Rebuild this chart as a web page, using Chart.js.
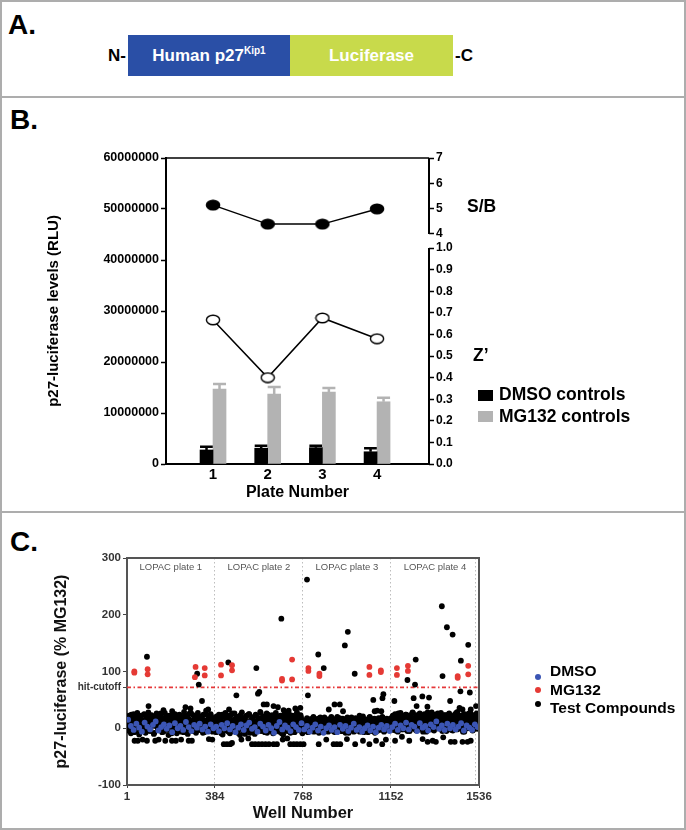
<!DOCTYPE html>
<html>
<head>
<meta charset="utf-8">
<title>p27-luciferase screen</title>
<script src="https://cdn.jsdelivr.net/npm/chart.js@4.4.1/dist/chart.umd.min.js"></script>
<style>
  body { margin: 0; background: #fff; font-family: "Liberation Sans", Arial, sans-serif; }
  #page { position: relative; width: 686px; height: 830px; overflow: hidden; }
  .frame { position: absolute; left: 0; width: 686px; border: 2px solid #adadad; box-sizing: border-box; }
  .tag { position: absolute; font-weight: bold; font-size: 28px; line-height: 28px; }
  .abs { position: absolute; font-weight: bold; white-space: nowrap; }
  .sw { position: absolute; }
  canvas { position: absolute; left: 0; }
</style>
</head>
<body>
<div id="page">
  <div class="frame" style="top:0;height:98px"></div>
  <div class="frame" style="top:96px;height:417px"></div>
  <div class="frame" style="top:511px;height:319px"></div>

  <div class="tag" style="left:8px;top:11px">A.</div>
  <div class="tag" style="left:10px;top:106px">B.</div>
  <div class="tag" style="left:10px;top:528px">C.</div>

  <!-- construct diagram -->
  <div class="abs" style="left:86px;width:40px;text-align:right;top:35px;line-height:41px;font-size:17px">N-</div>
  <div class="abs" style="left:128px;top:35px;width:162px;height:41px;line-height:41px;background:#2a4fa6;color:#fff;text-align:center;font-size:17px">Human p27<span style="font-size:10px;position:relative;top:-7px">Kip1</span></div>
  <div class="abs" style="left:290px;top:35px;width:163px;height:41px;line-height:41px;background:#c8da4b;color:#fff;text-align:center;font-size:17px">Luciferase</div>
  <div class="abs" style="left:455px;top:35px;line-height:41px;font-size:17px">-C</div>

  <canvas id="chartB" width="686" height="410" style="top:97px"></canvas>
  <canvas id="chartC" width="686" height="316" style="top:512px"></canvas>

  <!-- legend B -->
  <div class="sw" style="left:478px;top:390px;width:15px;height:11px;background:#000"></div>
  <div class="abs" style="left:499px;top:384px;font-size:17.5px;line-height:20px">DMSO controls</div>
  <div class="sw" style="left:478px;top:411px;width:15px;height:11px;background:#b3b3b3"></div>
  <div class="abs" style="left:499px;top:406px;font-size:17.5px;line-height:20px">MG132 controls</div>

  <!-- legend C -->
  <div class="sw" style="left:535px;top:674px;width:6px;height:6px;border-radius:3px;background:#3b55b4"></div>
  <div class="abs" style="left:550px;top:661px;font-size:15.5px;line-height:20px">DMSO</div>
  <div class="sw" style="left:535px;top:687px;width:6px;height:6px;border-radius:3px;background:#e53a35"></div>
  <div class="abs" style="left:550px;top:680px;font-size:15.5px;line-height:20px">MG132</div>
  <div class="sw" style="left:535px;top:701px;width:6px;height:6px;border-radius:3px;background:#000"></div>
  <div class="abs" style="left:550px;top:698px;font-size:15.5px;line-height:20px">Test Compounds</div>
</div>

<script>
// ---- panel B: controls per plate ----
const plates = [1, 2, 3, 4];
const dmsoMean = [2750000, 3100000, 3200000, 2400000];
const dmsoSd = [650000, 500000, 400000, 700000];
const mg132Mean = [14700000, 13700000, 14100000, 12200000];
const mg132Sd = [1000000, 1400000, 800000, 800000];
const sbRatio = [5.14, 4.39, 4.39, 4.99];
const zPrime = [0.667, 0.40, 0.676, 0.58];
const sbTicks = [4, 5, 6, 7];
const zTicks = [0, 0.1, 0.2, 0.3, 0.4, 0.5, 0.6, 0.7, 0.8, 0.9, 1.0];

// ---- panel C: LOPAC screen ----
const wellTicks = [1, 384, 768, 1152, 1536];
const plateNames = ['LOPAC plate 1', 'LOPAC plate 2', 'LOPAC plate 3', 'LOPAC plate 4'];
const plateStart = [0, 384, 768, 1152];
const plateMid = [192, 576, 960, 1344];
const plateDividers = [384, 768, 1152];
const hitCutoff = 72;

const mg132Wells = [[33,100],[33,98],[91,104],[91,95],[297,90],[300,108],[340,106],[340,93],
  [411,112],[411,93],[459,111],[459,102],[677,87],[677,84],[721,121],[721,86],
  [792,106],[792,101],[840,96],[840,92],[1058,108],[1058,94],[1108,102],[1108,99],
  [1178,106],[1178,94],[1226,110],[1226,101],[1443,92],[1443,89],[1489,110],[1489,95]];

// DMSO wells, one every 12 wells in each plate
const dmsoPlate1 = [15,4,-3,8,1,-6,10,3,-2,6,12,-4,2,7,-1,5,-7,9,0,4,-3,11,2,-5,6,1,8,-2,3,-6,7,0];
const dmsoPlate2 = [3,-5,6,0,9,-2,4,-7,1,7,-3,5,10,-1,2,-6,8,3,-4,6,0,-8,4,11,-2,5,1,-5,7,2,-3,9];
const dmsoPlate3 = [-2,4,-6,1,7,-4,3,-8,0,5,-3,2,-7,6,-1,4,-5,1,8,-3,2,-6,0,5,-4,3,-7,1,6,-2,4,-5];
const dmsoPlate4 = [2,8,-3,5,0,10,-2,6,3,-5,9,1,4,-4,7,2,12,-1,5,-3,8,0,6,-2,3,9,-4,5,1,-3,7,2];

// test compound band: odd rows (well 2, 6, 10 ...) and even rows (well 4, 8, 12 ...) of each plate
const testPlate1 = [14,-4,22,6,-9,18,2,25,9,-6,16,27,3,-11,20,7,12,-2,24,5,-8,17,10,28,0,-5,21,8,15,-10,
  19,4,26,11,-3,13,23,1,-7,18,9,27,-1,14,6,-12,22,3,16,30,-4,11,25,7,-9,19,2,24,12,-6,
  17,5,29,-2,21,8,-10,15,26,0,13,-5,23,9,4,-8,18,27,6,-3,20,11,1,24,-7,14,31,7,-1,19,3,25,10,-6,16,5];
const testPlate1b = [5,18,-3,11,24,1,15,-7,9,20,3,13,-1,22,7,16,-5,10,25,2,12,19,-4,8,17,0,23,6,14,-8,
  11,21,4,-2,18,9,26,1,13,-6,16,7,22,-3,10,19,3,14,-9,20,8,0,24,12,5,-4,17,9,21,2,
  15,-7,11,23,6,-1,18,4,13,27,0,10,-5,19,8,16,2,22,-3,12,6,20,-8,14,9,25,3,-2,17,11,7,21,-4,13,1,18];
const testPlate2 = [10,-7,19,3,24,-2,15,8,-11,21,5,27,-4,12,18,0,-9,23,7,14,-5,26,2,16,-1,20,9,-12,13,28,
  4,-6,17,11,22,-3,6,25,-8,15,1,19,10,-10,24,7,-2,18,12,29,-5,9,21,3,-7,16,26,0,13,-4,
  20,8,23,-9,11,5,27,-1,17,2,-6,22,14,9,-11,19,4,25,-3,12,7,24,-8,15,1,21,10,-5,18,28,6,-2,14,23,3,-9];
const testPlate2b = [8,21,-4,13,2,17,-9,24,6,11,-1,19,4,15,-6,22,9,0,26,12,-3,16,7,20,-8,10,3,23,14,-2,
  18,5,-10,21,11,1,25,8,-5,15,19,3,-7,12,22,6,-1,17,10,27,0,14,-4,20,7,13,-8,24,4,16,
  -2,11,19,2,-6,23,9,15,-3,21,5,12,-9,18,8,26,1,14,-5,20,10,3,17,-1,22,7,-7,15,11,24,0,13,-4,19,6,11];
const testPlate3 = [6,-4,14,1,18,-7,9,3,16,-2,11,20,-5,7,13,0,17,-8,10,4,15,-3,8,19,-1,12,5,-6,16,2,
  9,18,-4,13,6,-7,11,20,1,-2,15,8,-5,17,3,12,-8,10,19,0,14,-3,7,16,4,-6,11,18,2,-1,
  13,9,-4,17,5,21,-7,8,15,1,12,-2,19,6,-5,10,16,3,-8,14,7,0,18,11,-3,9,20,4,-6,13,2,17,-1,8,15,5];
const testPlate3b = [3,12,-5,8,16,0,10,-2,14,5,18,-6,7,11,1,15,-3,9,19,4,-7,13,6,17,-1,10,2,14,-4,8,
  20,0,12,-6,16,5,9,-2,13,18,1,-5,11,7,15,-3,4,17,10,-8,14,2,19,6,-1,12,8,-4,16,3,
  11,-6,9,18,1,13,-2,7,15,5,-7,10,20,2,14,-3,8,17,0,12,-5,6,16,4,11,-1,19,9,-4,13,3,15,7,-2,10,18];
const testPlate4 = [12,-3,20,7,25,2,16,-6,22,10,27,4,14,-2,19,9,24,0,17,11,-5,21,6,28,13,1,18,-4,23,8,
  15,26,3,-1,20,12,25,5,-6,17,10,22,2,19,28,7,-3,14,24,9,0,21,16,4,27,-2,12,18,6,23,
  -5,15,11,26,1,20,8,-4,17,24,3,13,29,-1,19,10,22,5,-6,16,25,7,14,0,21,11,27,2,18,-3,23,9,15,26,4,12];
const testPlate4b = [9,22,1,16,-4,19,11,26,5,14,-2,21,8,17,0,24,12,-5,18,6,23,3,15,27,-1,10,20,7,-3,16,
  25,4,13,19,-6,22,9,1,17,28,11,-2,14,21,6,24,-4,18,10,3,26,15,0,20,8,-5,16,23,12,2,
  19,-1,25,7,14,-3,21,11,17,4,27,-2,13,22,9,0,18,6,24,-6,15,20,3,11,26,1,17,8,-4,22,14,5,19,-1,12,23];

// compounds outside the band [well, % MG132]
const testOutliers = [[88,126],[95,39],[160,32],[256,37],[278,35],[307,96],[314,77],[328,48],[355,33],
  [443,116],[446,33],[478,58],[565,106],[572,61],[578,64],[597,42],[611,42],[640,39],[659,37],
  [674,193],[684,32],[706,31],[735,35],[757,36],[786,262],[790,58],[835,130],[859,106],[881,33],
  [906,42],[929,42],[943,30],[951,146],[964,170],[994,96],[1015,22],[1075,50],[1081,30],[1092,31],
  [1110,30],[1115,53],[1119,60],[1167,48],[1224,85],[1251,53],[1257,77],[1260,121],[1264,39],
  [1289,56],[1311,38],[1318,54],[1374,215],[1377,92],[1396,178],[1410,48],[1421,165],[1451,36],
  [1455,65],[1457,119],[1464,33],[1489,147],[1496,63],[1500,33],[1523,39],
  [34,-22],[48,-22],[69,-20],[88,-22],[124,-22],[139,-20],[168,-22],[197,-22],[214,-22],[237,-20],
  [270,-22],[284,-22],[358,-19],[373,-20],[423,-28],[437,-28],[451,-28],[459,-26],
  [500,-20],[530,-18],[546,-28],[560,-28],[575,-28],[590,-28],[605,-28],[620,-28],[640,-28],[655,-28],
  [680,-20],[700,-18],[713,-28],[728,-28],[742,-28],[757,-28],
  [771,-28],[837,-28],[870,-20],[902,-28],[916,-28],[931,-28],[960,-19],[996,-28],[1030,-22],
  [1058,-28],[1087,-22],[1114,-28],[1130,-20],
  [1170,-22],[1200,-15],[1232,-22],[1290,-19],[1312,-24],[1334,-22],[1348,-24],[1380,-16],
  [1413,-24],[1430,-24],[1464,-24],[1486,-24],[1500,-22]];

// ---------- helpers ----------
function ellipseMarker(fill) {
  const c = document.createElement('canvas');
  c.width = 16; c.height = 12;
  const g = c.getContext('2d');
  g.beginPath();
  g.ellipse(8, 6, 6.6, 4.8, 0, 0, Math.PI * 2);
  g.fillStyle = fill;
  g.fill();
  g.lineWidth = 1.4;
  g.strokeStyle = '#000';
  g.stroke();
  return c;
}
const xy = (xs, ys) => xs.map((x, i) => ({x: x, y: ys[i]}));

// ---------- panel B ----------
const errorBars = {
  id: 'errorBars',
  beforeDatasetsDraw(chart) {
    const ctx = chart.ctx;
    const y = chart.scales.y;
    const sets = [['DMSO controls', dmsoMean, dmsoSd, '#000'], ['MG132 controls', mg132Mean, mg132Sd, '#b3b3b3']];
    sets.forEach(([label, mean, sd, col]) => {
      const idx = chart.data.datasets.findIndex(d => d.label === label);
      chart.getDatasetMeta(idx).data.forEach((bar, j) => {
        const top = y.getPixelForValue(mean[j] + sd[j]);
        ctx.save();
        ctx.strokeStyle = col;
        ctx.lineWidth = 2.5;
        ctx.beginPath();
        ctx.moveTo(bar.x, bar.y);
        ctx.lineTo(bar.x, top);
        ctx.moveTo(bar.x - bar.width / 2, top);
        ctx.lineTo(bar.x + bar.width / 2, top);
        ctx.stroke();
        ctx.restore();
      });
    });
  }
};

const frameB = {
  id: 'frameB',
  afterDraw(chart) {
    const ctx = chart.ctx;
    const area = chart.chartArea;
    const sb = chart.scales.ySB, z = chart.scales.yZ;
    ctx.save();
    ctx.strokeStyle = '#000';
    ctx.lineWidth = 1.5;
    ctx.beginPath();
    ctx.moveTo(area.left, area.top);
    ctx.lineTo(area.right, area.top);
    ctx.stroke();
    ctx.lineWidth = 2;
    ctx.beginPath();
    ctx.moveTo(sb.left, sb.getPixelForValue(sbTicks[sbTicks.length - 1]));
    ctx.lineTo(sb.left, sb.getPixelForValue(sbTicks[0]));
    ctx.moveTo(z.left, z.getPixelForValue(zTicks[zTicks.length - 1]));
    ctx.lineTo(z.left, z.getPixelForValue(zTicks[0]));
    ctx.stroke();
    ctx.fillStyle = '#000';
    ctx.font = 'bold 17.5px "Liberation Sans", Arial, sans-serif';
    ctx.textBaseline = 'middle';
    ctx.fillText('S/B', sb.left + 38, sb.getPixelForValue(5.05));
    ctx.fillText('Z\u2019', z.left + 44, z.getPixelForValue(0.5));
    ctx.restore();
  }
};

const tickFontB = {size: 12, weight: 'bold', family: '"Liberation Sans", Arial, sans-serif'};

new Chart(document.getElementById('chartB'), {
  type: 'bar',
  data: {
    datasets: [
      {type: 'line', label: 'S/B', data: xy(plates, sbRatio), yAxisID: 'ySB', borderColor: '#000',
       borderWidth: 1.5, pointStyle: ellipseMarker('#000'), order: 0},
      {type: 'line', label: 'Z\u2019', data: xy(plates, zPrime), yAxisID: 'yZ', borderColor: '#000',
       borderWidth: 1.5, pointStyle: ellipseMarker('#fff'), order: 0},
      {label: 'DMSO controls', data: xy(plates, dmsoMean), yAxisID: 'y', backgroundColor: '#000',
       barThickness: 13, order: 1},
      {label: 'MG132 controls', data: xy(plates, mg132Mean), yAxisID: 'y', backgroundColor: '#b3b3b3',
       barThickness: 13, order: 1}
    ]
  },
  options: {
    responsive: false,
    animation: false,
    layout: {padding: {left: 41, top: 61, right: 217, bottom: 1}},
    plugins: {legend: {display: false}, tooltip: {enabled: false}},
    scales: {
      x: {
        type: 'linear', min: 0.14, max: 4.95, offset: false,
        afterBuildTicks: s => { s.ticks = plates.map(v => ({value: v})); },
        afterFit: s => { s.height = 42; },
        grid: {display: false, drawTicks: false, tickLength: 0},
        border: {color: '#000', width: 2},
        ticks: {color: '#000', padding: 2, font: {size: 15, weight: 'bold'}, autoSkip: false},
        title: {display: true, text: 'Plate Number', color: '#000', font: {size: 16, weight: 'bold'}, padding: {top: 0, bottom: 4}}
      },
      y: {
        position: 'left', min: 0, max: 60000000,
        afterFit: s => { s.width = 125; },
        grid: {drawOnChartArea: false, tickLength: 5, color: '#000', tickWidth: 1.5},
        border: {color: '#000', width: 2},
        ticks: {stepSize: 10000000, color: '#000', padding: 2, font: {size: 12.5, weight: 'bold'}, callback: v => String(v)},
        title: {display: true, text: 'p27-luciferase levels (RLU)', color: '#000', font: {size: 15, weight: 'bold'}}
      },
      ySB: {
        position: 'right', stack: 'right', stackWeight: 90, min: 3.447, max: 7,
        afterBuildTicks: s => { s.ticks = sbTicks.map(v => ({value: v})); },
        afterFit: s => { s.width = 40; },
        grid: {drawOnChartArea: false, tickLength: 5, color: '#000', tickWidth: 1.5},
        border: {display: false},
        ticks: {color: '#000', padding: 2, font: tickFontB, autoSkip: false}
      },
      yZ: {
        position: 'right', stack: 'right', stackWeight: 216, min: 0, max: 1,
        afterBuildTicks: s => { s.ticks = zTicks.map(v => ({value: v})); },
        afterFit: s => { s.width = 40; },
        grid: {drawOnChartArea: false, tickLength: 5, color: '#000', tickWidth: 1.5},
        border: {display: false},
        ticks: {color: '#000', padding: 2, font: tickFontB, autoSkip: false, callback: v => Number(v).toFixed(1)}
      }
    }
  },
  plugins: [errorBars, frameB]
});

// ---------- panel C ----------
const dmsoPts = [];
[dmsoPlate1, dmsoPlate2, dmsoPlate3, dmsoPlate4].forEach((vals, p) => {
  vals.forEach((v, i) => dmsoPts.push({x: plateStart[p] + 6 + i * 12, y: v}));
});
const testPts = [];
[testPlate1, testPlate2, testPlate3, testPlate4].forEach((vals, p) => {
  vals.forEach((v, i) => testPts.push({x: plateStart[p] + 2 + i * 4, y: v}));
});
[testPlate1b, testPlate2b, testPlate3b, testPlate4b].forEach((vals, p) => {
  vals.forEach((v, i) => testPts.push({x: plateStart[p] + 4 + i * 4, y: v}));
});
testOutliers.forEach(([w, v]) => testPts.push({x: w, y: v}));
const mgPts = mg132Wells.map(([w, v]) => ({x: w, y: v}));

const frameC = {
  id: 'frameC',
  beforeDatasetsDraw(chart) {
    const ctx = chart.ctx;
    const area = chart.chartArea;
    const x = chart.scales.x;
    ctx.save();
    ctx.strokeStyle = '#bdbdbd';
    ctx.lineWidth = 1;
    ctx.setLineDash([1.5, 2.5]);
    plateDividers.concat([wellTicks[wellTicks.length - 1]]).forEach(w => {
      const px = Math.round(x.getPixelForValue(w)) - (w === 1536 ? 3.5 : 0.5);
      ctx.beginPath();
      ctx.moveTo(px, area.top);
      ctx.lineTo(px, area.bottom);
      ctx.stroke();
    });
    ctx.setLineDash([]);
    ctx.fillStyle = '#555';
    ctx.font = '9.5px "Liberation Sans", Arial, sans-serif';
    ctx.textAlign = 'center';
    ctx.textBaseline = 'middle';
    plateNames.forEach((n, i) => ctx.fillText(n, x.getPixelForValue(plateMid[i]), area.top + 9));
    ctx.restore();
  },
  afterDraw(chart) {
    const ctx = chart.ctx;
    const area = chart.chartArea;
    ctx.save();
    ctx.strokeStyle = '#555';
    ctx.lineWidth = 2;
    ctx.beginPath();
    ctx.moveTo(area.left, area.top);
    ctx.lineTo(area.right, area.top);
    ctx.lineTo(area.right, area.bottom);
    ctx.stroke();
    ctx.restore();
  }
};

new Chart(document.getElementById('chartC'), {
  type: 'scatter',
  data: {
    datasets: [
      {label: 'DMSO', data: dmsoPts, pointBackgroundColor: '#3b55b4', pointBorderWidth: 0, pointRadius: 2.9},
      {label: 'MG132', data: mgPts, pointBackgroundColor: '#e53a35', pointBorderWidth: 0, pointRadius: 2.9},
      {label: 'Test Compounds', data: testPts, pointBackgroundColor: '#000', pointBorderWidth: 0, pointRadius: 2.9},
      {label: 'hit-cutoff', data: [{x: 1, y: hitCutoff}, {x: 1536, y: hitCutoff}], showLine: true,
       borderColor: '#e5383a', borderWidth: 1.6, borderDash: [4, 2.5, 1.5, 2.5], pointRadius: 0}
    ]
  },
  options: {
    responsive: false,
    animation: false,
    layout: {padding: {left: 48, top: 46, right: 207, bottom: 1}},
    plugins: {legend: {display: false}, tooltip: {enabled: false}},
    scales: {
      x: {
        type: 'linear', min: 1, max: 1536,
        afterBuildTicks: s => { s.ticks = wellTicks.map(v => ({value: v})); },
        afterFit: s => { s.height = 42; },
        grid: {drawOnChartArea: false, tickLength: 3, color: '#444'},
        border: {color: '#555', width: 2},
        ticks: {color: '#333', padding: 2, autoSkip: false, font: {size: 11.5, weight: 'bold'}, callback: v => String(v)},
        title: {display: true, text: 'Well Number', color: '#111', font: {size: 16.5, weight: 'bold'}, padding: {top: 0, bottom: 4}}
      },
      y: {
        min: -100, max: 300,
        afterBuildTicks: s => { s.ticks = [-100, 0, hitCutoff, 100, 200, 300].map(v => ({value: v})); },
        afterFit: s => { s.width = 79; },
        grid: {drawOnChartArea: false, tickLength: 4, color: '#444'},
        border: {color: '#555', width: 2},
        ticks: {
          color: '#333', padding: 2, autoSkip: false,
          font: c => (c.tick && c.tick.value === hitCutoff) ? {size: 10, weight: 'bold'} : {size: 11.5, weight: 'bold'},
          callback: v => v === hitCutoff ? 'hit-cutoff' : String(v)
        },
        title: {display: true, text: 'p27-luciferase (% MG132)', color: '#111', font: {size: 16, weight: 'bold'}}
      }
    }
  },
  plugins: [frameC]
});
</script>
</body>
</html>
